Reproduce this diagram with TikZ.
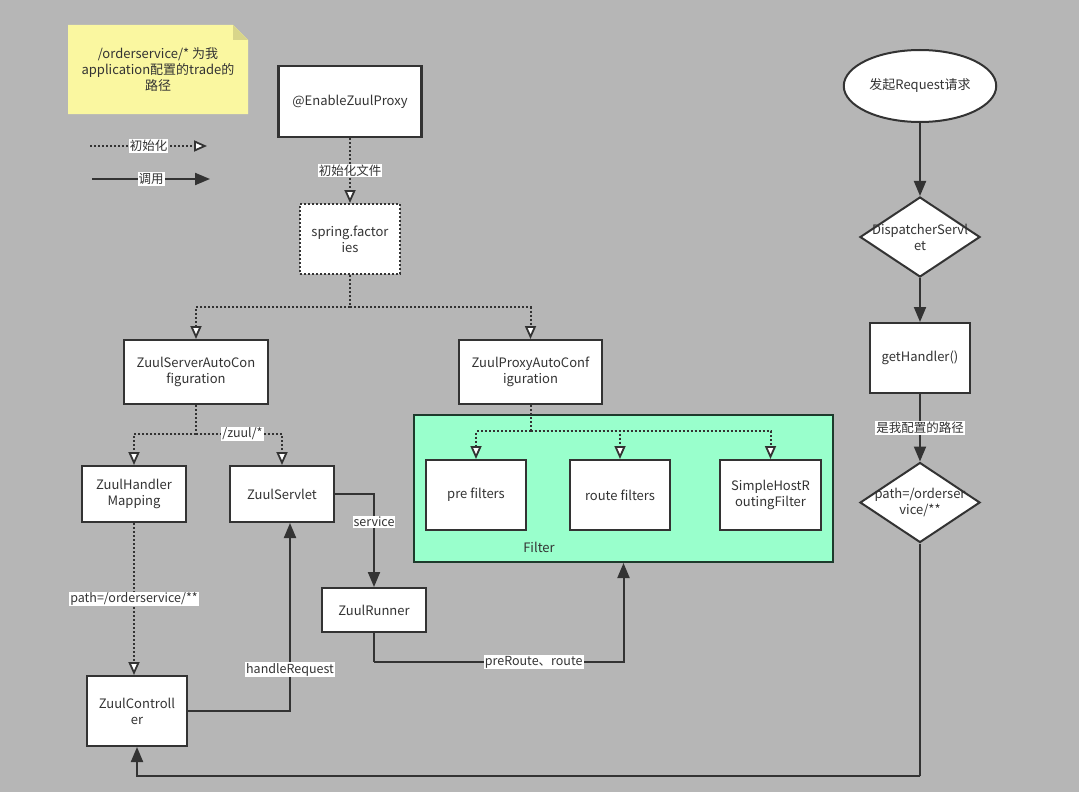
\documentclass[tikz,border=0pt]{standalone}
\usepackage{fontspec}
\setmainfont{Noto Sans CJK SC}
\usetikzlibrary{arrows.meta,shapes.geometric}
\definecolor{bg}{HTML}{B6B6B6}
\definecolor{ln}{HTML}{333333}
\definecolor{notey}{HTML}{FAF7A0}
\definecolor{notefold}{HTML}{D8D58A}
\definecolor{mint}{HTML}{99FFCC}
\definecolor{mintline}{HTML}{1E3A2C}
\begin{document}
\begin{tikzpicture}[x=1pt,y=-1pt,
  txt/.style={font=\fontsize{13}{16}\selectfont, text=ln, align=center},
  box/.style={txt, draw=ln, line width=2pt, fill=white, inner sep=2pt},
  dbox/.style={box, dash pattern=on 2pt off 2pt},
  lbl/.style={font=\fontsize{12.5}{14}\selectfont, text=ln, fill=white, inner sep=1pt},
  initline/.style={draw=ln, line width=2pt, dash pattern=on 2pt off 2pt, -{Triangle[open, length=13pt, width=11pt, line width=1.8pt, fill=white]}},
  initnoarrow/.style={draw=ln, line width=2pt, dash pattern=on 2pt off 2pt},
  callline/.style={draw=ln, line width=2pt, -{Triangle[length=15pt, width=12pt]}},
  callnoarrow/.style={draw=ln, line width=2pt},
  dia/.style={shape=diamond, draw=ln, line width=2pt, fill=white, minimum width=120pt, minimum height=80pt, inner sep=0pt}
]
\fill[bg] (0,0) rectangle (1079,792);
\useasboundingbox (0,0) rectangle (1079,792);

% note
\fill[notey] (68,25) -- (233,25) -- (248,40) -- (248,114) -- (68,114) -- cycle;
\fill[notefold] (233,25) -- (248,40) -- (233,40) -- cycle;
\node[txt, inner sep=0pt] (note) at (158,70) {/orderservice/* 为我\\application配置的trade的\\路径};

% legend
\coordinate (l1a) at (90,146);
\coordinate (l1b) at (207,146);
\coordinate (l2a) at (92,179);
\coordinate (l2b) at (210,179);
\draw[initline] (l1a) -- node[lbl]{初始化} (l1b);
\draw[callline] (l2a) -- node[lbl]{调用} (l2b);

% left/middle nodes
\node[box, line width=2.4pt, minimum width=143pt, minimum height=71pt] (ezp) at (350,101.5) {@EnableZuulProxy};
\node[dbox, minimum width=100pt, minimum height=70pt] (sf) at (350,239) {spring.factor\\ies};
\node[box, minimum width=144pt, minimum height=64pt] (zsac) at (196,372) {ZuulServerAutoCon\\figuration};
\node[box, minimum width=143pt, minimum height=64pt] (zpac) at (530.5,372) {ZuulProxyAutoConf\\iguration};
\node[box, minimum width=104pt, minimum height=56pt] (zhm) at (134,494) {ZuulHandler\\Mapping};
\node[box, minimum width=104pt, minimum height=56pt] (zs) at (282,494) {ZuulServlet};
\node[box, minimum width=104pt, minimum height=44pt] (zr) at (374,610) {ZuulRunner};
\node[box, minimum width=100pt, minimum height=70pt] (zc) at (137,711) {ZuulControll\\er};

% filter container
\node[draw=mintline, line width=2pt, fill=mint, minimum width=419pt, minimum height=147pt] (filter) at (623.5,488.5) {};
\node[txt, text=ln] (filterlbl) at (539,547) {Filter};
\node[box, minimum width=100pt, minimum height=70pt] (pre) at (476,495) {pre filters};
\node[box, minimum width=100pt, minimum height=70pt] (route) at (620,495) {route filters};
\node[box, minimum width=101pt, minimum height=70pt] (shrf) at (770.5,495) {SimpleHostR\\outingFilter};

% right column
\node[draw=ln, line width=2pt, fill=white, ellipse, minimum width=150pt, minimum height=72pt, txt] (start) at (920,86) {发起Request请求};
\node[dia, label={[txt]center:DispatcherServl\\et}] (d1) at (920,237) {};
\node[box, minimum width=100pt, minimum height=70pt] (gh) at (920,358) {getHandler()};
\node[dia, label={[txt]center:path=/orderser\\vice/**}] (d2) at (920,502.5) {};

% junction coordinates
\coordinate (j1) at (350,307);
\coordinate (j2) at (196,434);
\coordinate (j3) at (530.5,431);
\coordinate (j4) at (374,662);
\coordinate (j5) at (920,776);

% init (dotted) connectors
\draw[initline] (ezp) -- node[lbl]{初始化文件} (sf);
\draw[initnoarrow] (sf.south) -- (j1);
\draw[initline] (j1) -| (zsac.north);
\draw[initline] (j1) -| (zpac.north);
\draw[initnoarrow] (zsac.south) -- (j2);
\draw[initline] (j2) -| (zhm.north);
\draw[initline] (j2) -| node[lbl, pos=0.27]{/zuul/*} (zs.north);
\draw[initnoarrow] (zpac.south) -- (j3);
\draw[initline] (j3) -| (pre.north);
\draw[initline] (j3) -| (route.north);
\draw[initline] (j3) -| (shrf.north);
\draw[initline] (zhm.south) -- node[lbl, pos=0.5]{path=/orderservice/**} (zhm.south |- zc.north);

% call (solid) connectors
\draw[callline] (zs.east) -| node[lbl, pos=0.65]{service} (zr.north);
\draw[callnoarrow] (zr.south) -- (j4);
\draw[callline] (j4) -| node[lbl, pos=0.32]{preRoute、route} (filter.south);
\draw[callline] (zc.east) -| node[lbl, pos=0.61]{handleRequest} ([xshift=8pt]zs.south);
\draw[callline] (start) -- (d1);
\draw[callline] (d1) -- (gh);
\draw[callline] (gh) -- node[lbl]{是我配置的路径} (d2);
\draw[callnoarrow] (d2.south) -- (j5);
\draw[callline] (j5) -| (zc.south);
\end{tikzpicture}
\end{document}
